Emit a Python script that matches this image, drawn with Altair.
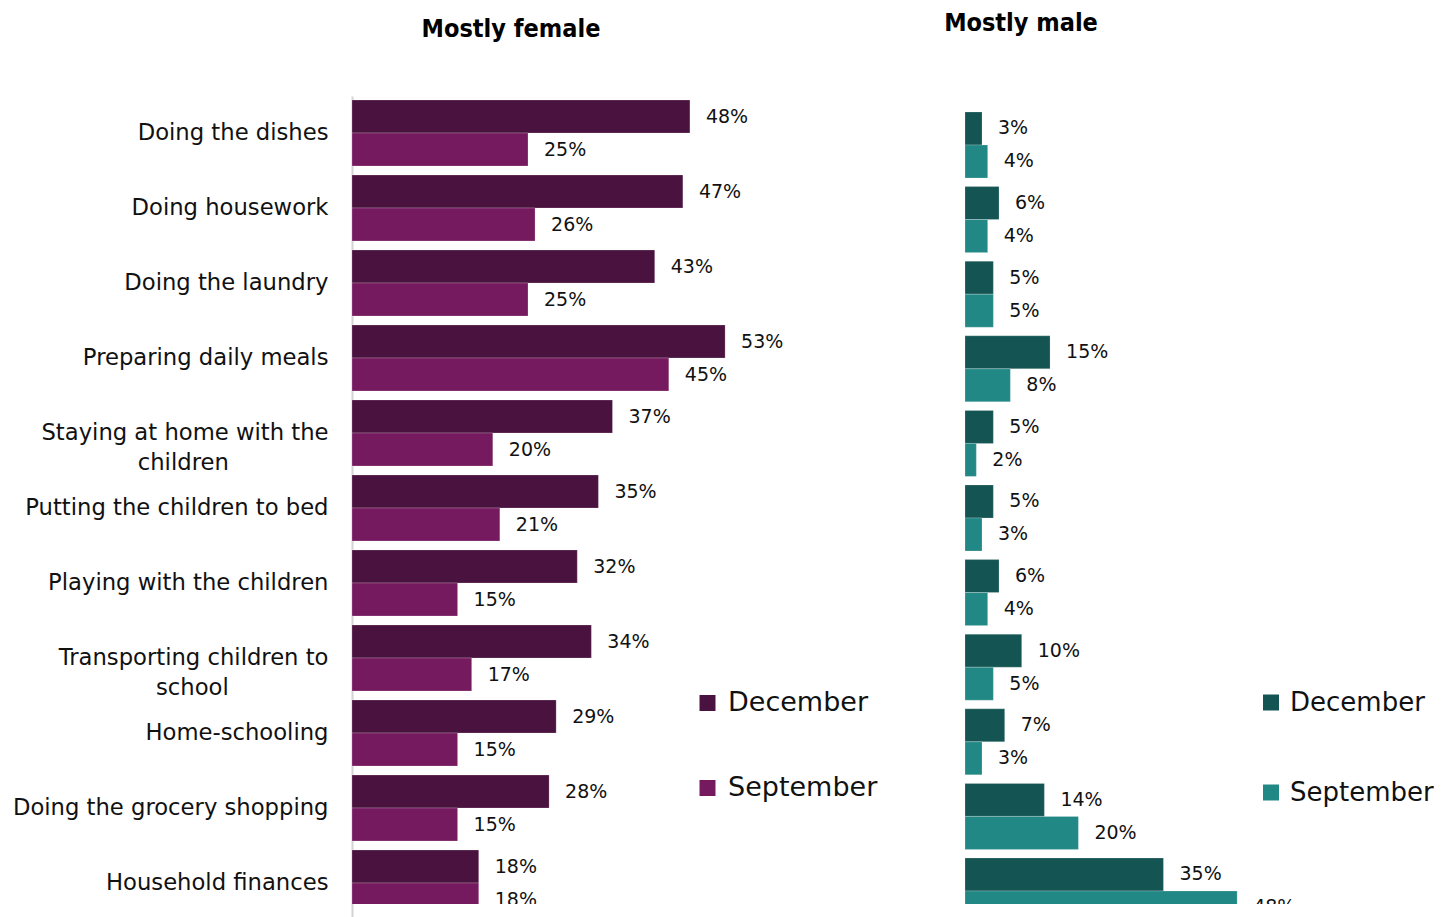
import altair as alt
import pandas as pd

PAD = "\u2800"
categories = [
    "Doing the dishes",
    "Doing housework",
    "Doing the laundry",
    "Preparing daily meals",
    "Staying at home with the|children" + PAD * 6,
    "Putting the children to bed",
    "Playing with the children",
    "Transporting children to|school" + PAD * 6,
    "Home-schooling",
    "Doing the grocery shopping",
    "Household finances",
]
months = ["December", "September"]
female_dec = [48, 47, 43, 53, 37, 35, 32, 34, 29, 28, 18]
female_sep = [25, 26, 25, 45, 20, 21, 15, 17, 15, 15, 18]
male_dec = [3, 6, 5, 15, 5, 5, 6, 10, 7, 14, 35]
male_sep = [4, 4, 5, 8, 2, 3, 4, 5, 3, 20, 48]

FONT = "DejaVu Sans"


def long_df(dec, sep):
    rows = []
    for c, d, s in zip(categories, dec, sep):
        rows.append({"category": c, "month": "December", "value": d, "label": f"{d}%"})
        rows.append({"category": c, "month": "September", "value": s, "label": f"{s}%"})
    return pd.DataFrame(rows)


df_f = long_df(female_dec, female_sep)
df_m = long_df(male_dec, male_sep)

VIEW_H = 808


def panel(df, colors, width, xmax, full_h, p_inner, p_outer, show_axis, title,
          title_dx, title_offset, leg_x, leg_y, leg_rowpad, leg_font, leg_off):
    if show_axis:
        yaxis = alt.Axis(
            title=None, ticks=False, grid=False, labelFont=FONT, labelFontSize=22.7,
            labelColor="#111111", labelPadding=24, labelLimit=500,
            labelExpr="split(datum.value, '|')", labelLineHeight=30,
            domainColor="#d4d4d4", domainWidth=2,
        )
    else:
        yaxis = None
    y = alt.Y("category:N", sort=categories, axis=yaxis,
              scale=alt.Scale(paddingInner=p_inner, paddingOuter=p_outer,
                              range=[0, full_h]))
    x = alt.X("value:Q", axis=None, scale=alt.Scale(domain=[0, xmax], nice=False))
    yo = alt.YOffset("month:N", sort=months)
    base = alt.Chart(df)
    bars = base.mark_bar(clip=True, stroke="#ffffff", strokeOpacity=0.35,
                         strokeWidth=0.6).encode(
        y=y, x=x, yOffset=yo,
        color=alt.Color(
            "month:N",
            scale=alt.Scale(domain=months, range=colors),
            legend=alt.Legend(
                title=None, orient="none", legendX=leg_x, legendY=leg_y, padding=0,
                columnPadding=0, offset=0,
                symbolType="square", symbolSize=256, symbolStrokeWidth=0,
                symbolOpacity=1, labelFont=FONT, labelFontSize=leg_font,
                labelColor="#111111", labelOffset=leg_off, rowPadding=leg_rowpad,
            ),
        ),
    )
    text = base.mark_text(clip=True, align="left", baseline="middle", dx=16, font=FONT,
                          fontSize=19, color="#111111").encode(
        y=y, x=x, yOffset=yo, text="label:N"
    )
    return alt.layer(bars, text).properties(
        width=width, height=VIEW_H,
        title=alt.TitleParams(
            title, anchor="middle", frame="group", dx=title_dx, offset=title_offset,
            font="DejaVu Sans Condensed", fontSize=25, fontWeight="bold",
            color="#000000", baseline="alphabetic",
        ),
    ).resolve_scale(color="independent")


T = 96
left = panel(df_f, ["#4a123e", "#761a60"], 500, 500 / 7.04, 824, 0.12, 4 / 75, True,
             "Mostly female", -91, 34, 342, 702 - 13.5 - T + 1, 57, 27, 7)
right = panel(df_m, ["#145452", "#218885"], 450, 450 / 5.67, 844, 0.115, 16 / 74.6, False,
              "Mostly male", -169, 40, 293, 702 - 13.5 - T + 1, 64, 26, 6)

chart = alt.hconcat(left, right, spacing=113, bounds="flush").resolve_scale(
    color="independent"
).properties(
    padding={"left": 4, "top": 3, "right": 0, "bottom": 0}
).configure_view(stroke=None)

chart.save("out.html", embed_options={"renderer": "svg", "actions": False})
